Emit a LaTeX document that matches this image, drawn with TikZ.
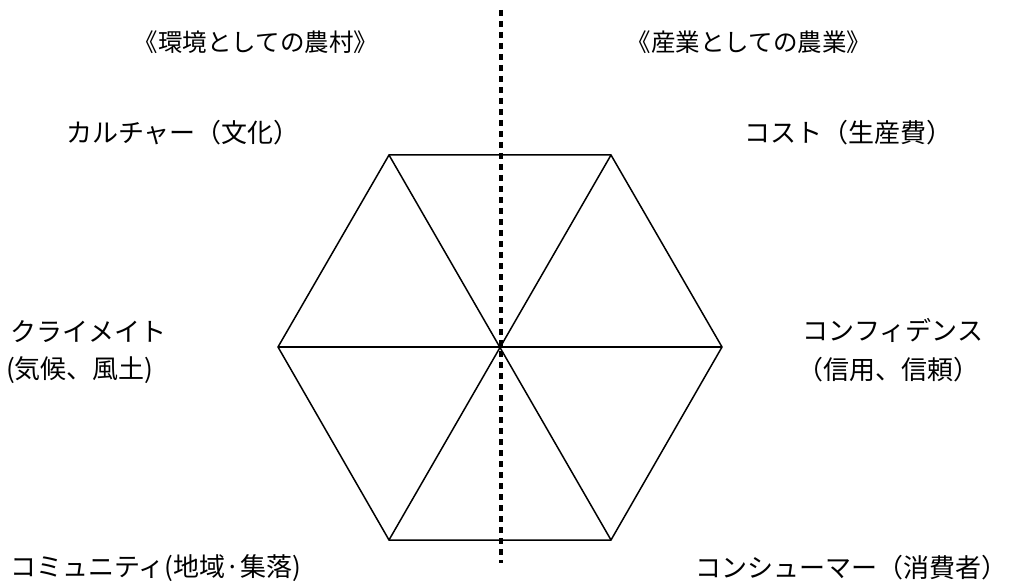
\documentclass[tikz,border=0pt]{standalone}
\usepackage{fontspec}
\newfontfamily\jp{Noto Sans CJK JP}
\begin{document}
\begin{tikzpicture}[x=1pt,y=-1pt,
  lbl/.style={inner sep=0pt,font=\jp\fontsize{26}{30}\selectfont,anchor=center},
  hd/.style={inner sep=0pt,font=\jp\fontsize{24.5}{28}\selectfont,anchor=center},
  hexline/.style={line width=1.5pt,black},
  divider/.style={line width=4.5pt,black,dash pattern=on 6pt off 5pt}]
\useasboundingbox (0,0) rectangle (1011,585);
% hexagon
\coordinate (c) at (500,347);
\coordinate (v1) at (722,347);
\coordinate (v2) at (611,155);
\coordinate (v3) at (389,155);
\coordinate (v4) at (278,347);
\coordinate (v5) at (389,540);
\coordinate (v6) at (611,540);
\draw[hexline,line join=miter] (v1) -- (v2) -- (v3) -- (v4) -- (v5) -- (v6) -- cycle;
\draw[hexline] (v1) -- (v4);
\draw[hexline] (v2) -- (v5);
\draw[hexline] (v3) -- (v6);
% divider
\coordinate (dtop) at (501,10);
\coordinate (dbot) at (501,563);
\draw[divider] (dtop) -- (dbot);
% headings
\node[hd] (h1) at (256,42) {《環境としての農村》};
\node[hd] (h2) at (749,42) {《産業としての農業》};
% labels
\node[lbl] (culture) at (183,133) {カルチャー（文化）};
\node[lbl] (cost) at (848,133) {コスト（生産費）};
\node[lbl,anchor=west] (climate) at (10,332) {クライメイト};
\node[lbl,anchor=west] (climate2) at (6,370) {(気候、風土)};
\node[lbl] (conf) at (893,330) {コンフィデンス};
\node[lbl] (conf2) at (888,370) {（信用、信頼）};
\node[lbl,anchor=west] (comm) at (10,568) {コミュニティ(地域·集落)};
\node[lbl,anchor=east] (cons) at (1008,568) {コンシューマー（消費者）};
\end{tikzpicture}
\end{document}
